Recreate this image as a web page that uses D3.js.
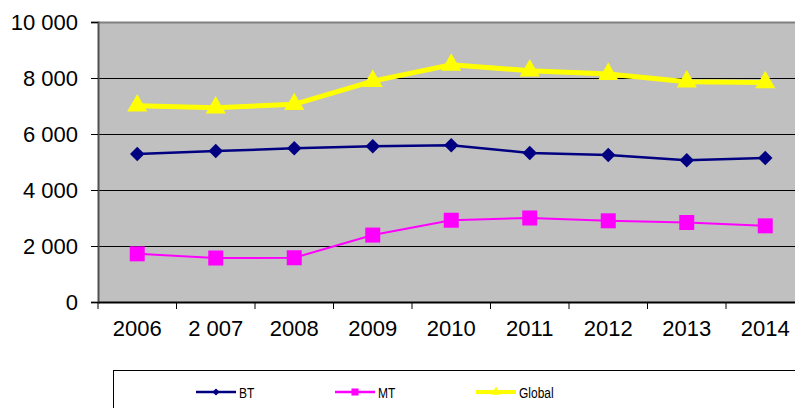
<!DOCTYPE html>
<html>
<head>
<meta charset="utf-8">
<script src="https://cdn.jsdelivr.net/npm/d3@7"></script>
<style>
	body { margin: 0; background: #fff; }
	svg text { font-family: "Liberation Sans", Arial, sans-serif; fill: #000; }
</style>
</head>
<body>
<div id="chart"></div>
<script>
// data
var years = ["2006", "2 007", "2008", "2009", "2010", "2011", "2012", "2013", "2014"];
var bt = [5290, 5390, 5490, 5560, 5600, 5320, 5250, 5060, 5140];
var mt = [1720, 1570, 1580, 2390, 2920, 3000, 2900, 2840, 2720];
var globalVals = [7010, 6940, 7060, 7890, 8470, 8260, 8140, 7870, 7840];
var yTicks = [0, 2000, 4000, 6000, 8000, 10000];
var yTickLabels = ["0", "2 000", "4 000", "6 000", "8 000", "10 000"];
var seriesNames = ["BT", "MT", "Global"];

var width = 795, height = 408;
var plot = {left: 98, top: 22, bottom: 302, band: 78.5};

var svg = d3.select("#chart").append("svg")
	.attr("width", width)
	.attr("height", height);

// Set the ranges
var x = d3.scaleBand().domain(years)
	.range([plot.left, plot.left + plot.band * years.length]);
var y = d3.scaleLinear().domain([0, 10000]).range([plot.bottom, plot.top]);

// plot background
svg.append("rect")
	.attr("x", plot.left)
	.attr("y", plot.top)
	.attr("width", plot.band * years.length)
	.attr("height", plot.bottom - plot.top)
	.attr("fill", "#c0c0c0");

// gridlines
svg.append("g").selectAll("line")
	.data(yTicks.slice(1))
	.enter().append("line")
	.attr("x1", plot.left).attr("x2", width)
	.attr("y1", function(d) { return Math.round(y(d)) + 0.5; })
	.attr("y2", function(d) { return Math.round(y(d)) + 0.5; })
	.attr("stroke", function(d) { return d == 10000 ? "#808080" : "#000"; })
	.attr("stroke-width", function(d) { return d == 10000 ? 2 : 1; });

// y axis
var axisLeft = d3.axisLeft(y).tickValues(yTicks)
	.tickFormat(function(d, i) { return yTickLabels[i]; })
	.tickSize(7).tickPadding(13);
var gy = svg.append("g")
	.attr("transform", "translate(" + plot.left + ",0)")
	.call(axisLeft);
gy.select(".domain").attr("stroke", "#505050").attr("stroke-width", 2);
gy.selectAll(".tick line").attr("stroke", "#000");
gy.selectAll(".tick text")
	.attr("font-size", 22)
	.attr("dy", "0.36em")
	.style("font-family", "Liberation Sans, Arial, sans-serif");

// x axis
var axisBottom = d3.axisBottom(x).tickSize(0).tickPadding(18);
var gx = svg.append("g")
	.attr("transform", "translate(0," + plot.bottom + ")")
	.call(axisBottom);
gx.select(".domain").attr("stroke", "#000").attr("stroke-width", 2);
gx.selectAll(".tick text")
	.attr("font-size", 22)
	.style("font-family", "Liberation Sans, Arial, sans-serif");
// ticks at the category boundaries
gx.append("g").selectAll("line")
	.data(years)
	.enter().append("line")
	.attr("x1", function(d) { return x(d); })
	.attr("x2", function(d) { return x(d); })
	.attr("y1", 0).attr("y2", 7)
	.attr("stroke", "#000");

var cx = function(d, i) { return x(years[i]) + x.bandwidth() / 2; };

// diamond = square turned 45 degrees
var series = [
	{name: seriesNames[0], values: bt, color: "#000080", width: 2.5, symbol: d3.symbolSquare, size: 105, rot: 45, legendSize: 26},
	{name: seriesNames[1], values: mt, color: "#ff00ff", width: 2, symbol: d3.symbolSquare, size: 225, rot: 0, legendSize: 50},
	{name: seriesNames[2], values: globalVals, color: "#ffff00", width: 5, symbol: d3.symbolTriangle, size: 175, rot: 0, legendSize: 40}
];

var line = d3.line()
	.x(cx)
	.y(function(d) { return y(d); });

series.forEach(function(s) {
	var g = svg.append("g");
	g.append("path")
		.attr("d", line(s.values))
		.attr("fill", "none")
		.attr("stroke", s.color)
		.attr("stroke-width", s.width);
	g.selectAll("path.marker")
		.data(s.values)
		.enter().append("path")
		.attr("class", "marker")
		.attr("d", d3.symbol().type(s.symbol).size(s.size))
		.attr("transform", function(d, i) {
			return "translate(" + cx(d, i) + "," + y(d) + ") rotate(" + s.rot + ")";
		})
		.attr("fill", s.color);
});

// legend
var legend = svg.append("g");
legend.append("rect")
	.attr("x", 113.5).attr("y", 370.5)
	.attr("width", 700).attr("height", 60)
	.attr("fill", "#fff")
	.attr("stroke", "#000");

var legendX = [196, 335, 476];
series.forEach(function(s, i) {
	var lg = legend.append("g").attr("transform", "translate(" + legendX[i] + ",392)");
	lg.append("line")
		.attr("x1", 0).attr("x2", 40)
		.attr("stroke", s.color)
		.attr("stroke-width", s.name == "Global" ? 4 : 2.5);
	lg.append("path")
		.attr("d", d3.symbol().type(s.symbol).size(s.legendSize))
		.attr("transform", "translate(20,0) rotate(" + s.rot + ")")
		.attr("fill", s.color);
	lg.append("text")
		.attr("x", 43).attr("y", 5.5)
		.attr("font-size", 15)
		.attr("transform", "translate(43,0) scale(0.8,1) translate(-43,0)")
		.text(s.name);
});
</script>
</body>
</html>
